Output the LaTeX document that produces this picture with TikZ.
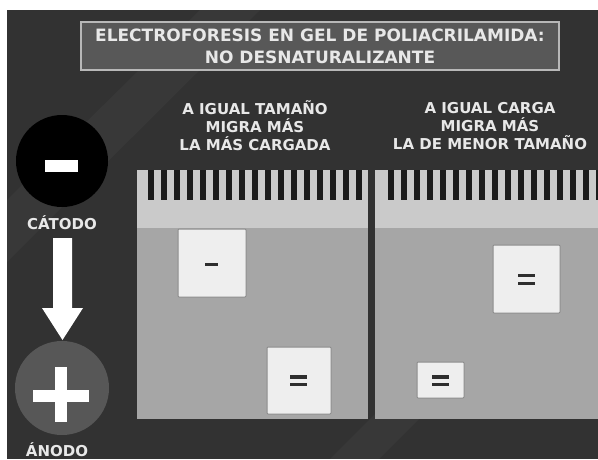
\documentclass[tikz,border=0pt]{standalone}
\usepackage{fontspec}
\setmainfont{DejaVu Sans}
\definecolor{bgdark}{HTML}{323232}
\definecolor{titlefill}{HTML}{585858}
\definecolor{titleborder}{HTML}{B8B8B8}
\definecolor{txt}{HTML}{E8E8E8}
\definecolor{gellight}{HTML}{CACACA}
\definecolor{gelmid}{HTML}{A6A6A6}
\definecolor{tooth}{HTML}{1C1C1C}
\definecolor{boxfill}{HTML}{EEEEEE}
\definecolor{boxborder}{HTML}{8C8C8C}
\definecolor{signcol}{HTML}{2E2E2E}
\definecolor{anodecol}{HTML}{575757}
\begin{document}
\begin{tikzpicture}[x=1pt,y=-1pt,
  heading/.style={text=txt, align=center, inner sep=0pt, font=\bfseries\fontsize{15}{18}\selectfont},
  label/.style={text=txt, inner sep=0pt, font=\bfseries\fontsize{15}{18}\selectfont},
  gelbox/.style={draw=boxborder, fill=boxfill, line width=1pt, rounded corners=1pt, inner sep=0pt},
  signbar/.style={fill=signcol},
]
\useasboundingbox (0,0) rectangle (598,459);
\fill[white] (0,0) rectangle (598,459);
\fill[bgdark] (7,10) rectangle (598,459);
% faint diagonal streaks
\fill[white, opacity=0.03] (7,200) -- (200,10) -- (260,10) -- (7,262) -- cycle;
\fill[white, opacity=0.03] (330,459) -- (598,191) -- (598,240) -- (379,459) -- cycle;

% title
\node[draw=titleborder, line width=2pt, fill=titlefill, minimum width=478pt, minimum height=48pt,
      text=txt, align=center, inner sep=0pt, font=\bfseries\fontsize{17}{22}\selectfont]
  (title) at (320,46) {ELECTROFORESIS EN GEL DE POLIACRILAMIDA:\\NO DESNATURALIZANTE};

% headings
\node[heading] (h1) at (255,126) {A IGUAL TAMAÑO\\MIGRA MÁS\\LA MÁS CARGADA};
\node[heading] (h2) at (490,126) {A IGUAL CARGA\\MIGRA MÁS\\LA DE MENOR TAMAÑO};

% gels
\fill[gelmid] (137,170) rectangle (368,419);
\fill[gellight] (137,170) rectangle (368,228);
\fill[gelmid] (375,170) rectangle (598,419);
\fill[gellight] (375,170) rectangle (598,228);
\foreach \k in {0,...,16} \fill[tooth] ({148+13*\k},170) rectangle ++(6,30);
\foreach \k in {0,...,16} \fill[tooth] ({388+13*\k},170) rectangle ++(6,30);

% boxes
\node[gelbox, minimum width=68pt, minimum height=68pt] (b1) at (212,263) {};
\fill[signbar] (205,262.5) rectangle (218,266);
\node[gelbox, minimum width=64pt, minimum height=67pt] (b2) at (299,380.5) {};
\fill[signbar] (290,375) rectangle (307,378.5);
\fill[signbar] (290,382.5) rectangle (307,386);
\node[gelbox, minimum width=67pt, minimum height=68pt] (b3) at (526.5,279) {};
\fill[signbar] (518,273.5) rectangle (535,277);
\fill[signbar] (518,281.5) rectangle (535,285);
\node[gelbox, minimum width=47pt, minimum height=36pt] (b4) at (440.5,380) {};
\fill[signbar] (432,375) rectangle (449,378.5);
\fill[signbar] (432,382.5) rectangle (449,386);

% cathode
\node[circle, fill=black, minimum size=92pt, inner sep=0pt] (cat) at (62,161) {};
\fill[white] (45,160) rectangle (78,172);
\node[label] (catl) at (62,223) {CÁTODO};

% arrow
\coordinate (atop) at (62.5,238);
\coordinate (atip) at (62.5,340);
\fill[white] ([xshift=-9.5pt]atop) -- ([xshift=9.5pt]atop) -- (72,308) -- (83,308) -- (atip) -- (42,308) -- (53,308) -- cycle;

% anode
\node[circle, fill=anodecol, minimum size=94pt, inner sep=0pt] (an) at (62,388) {};
\fill[white] (33,390) rectangle (89,402);
\fill[white] (55,367) rectangle (67,422);
\node[label] (anl) at (57,449.5) {ÁNODO};
\end{tikzpicture}
\end{document}
